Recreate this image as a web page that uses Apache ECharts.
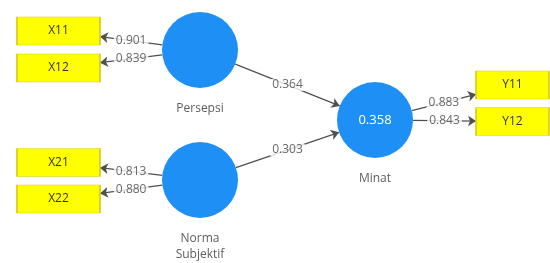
<!DOCTYPE html>
<html>
<head>
<meta charset="utf-8">
<script src="https://cdn.jsdelivr.net/npm/echarts@6/dist/echarts.min.js"></script>
<style>
  html, body { margin: 0; padding: 0; background: #fff; }
  #main { width: 550px; height: 263px; }
</style>
</head>
<body>
<div id="main"></div>
<script>
// latent variables: name, label lines, r2 shown inside
var latentNames = ['Persepsi', 'Norma Subjektif', 'Minat'];
var latentLabels = ['Persepsi', 'Norma\nSubjektif', 'Minat'];
var latentR2 = ['', '', '0.358'];
// diagram layout (centres) of the latent circles
var latentPos = [[200, 50], [200, 180], [375, 120]];

// indicators
var indicatorNames = ['X11', 'X12', 'X21', 'X22', 'Y11', 'Y12'];
var indicatorPos = [[58.5, 31], [58.5, 68], [58.5, 162.5], [58.5, 199], [512.5, 85], [512.5, 121.5]];
var indicatorSize = [[83, 28], [83, 28], [83, 28], [83, 28], [73, 28], [73, 28]];
var indicatorOwner = [0, 0, 1, 1, 2, 2];
var loadings = [0.901, 0.839, 0.813, 0.880, 0.883, 0.843];

// structural paths
var pathFrom = [0, 1];
var pathTo = [2, 2];
var pathCoef = [0.364, 0.303];

var R = 38;
var FONT = '"Open Sans", "Noto Sans", sans-serif';

function onCircle(c, t, r) {
  var dx = t[0] - c[0], dy = t[1] - c[1];
  var d = Math.sqrt(dx * dx + dy * dy);
  return [c[0] + dx / d * r, c[1] + dy / d * r];
}
function onBoxSide(c, t, w) {
  // point on the vertical side of the box facing the circle
  var sx = t[0] > c[0] ? c[0] + w / 2 : c[0] - w / 2;
  var y = c[1] + (t[1] - c[1]) * (sx - c[0]) / (t[0] - c[0]);
  return [sx, y];
}

var edges = [];
var edgeLabels = [];
loadings.forEach(function (v, i) {
  var lv = latentPos[indicatorOwner[i]];
  var box = indicatorPos[i];
  var a = onCircle(lv, box, R);
  var b = onBoxSide(box, lv, indicatorSize[i][0]);
  edges.push({ coords: [a, b] });
  edgeLabels.push({ value: [(a[0] + b[0]) / 2, (a[1] + b[1]) / 2], name: v.toFixed(3) });
});
pathCoef.forEach(function (v, i) {
  var p = latentPos[pathFrom[i]], q = latentPos[pathTo[i]];
  var a = onCircle(p, q, R), b = onCircle(q, p, R);
  edges.push({ coords: [a, b] });
  edgeLabels.push({ value: [(a[0] + b[0]) / 2, (a[1] + b[1]) / 2], name: v.toFixed(3) });
});

var myChart = echarts.init(document.getElementById('main'));
var option = {
  animation: false,
  grid: { left: 0, right: 0, top: 0, bottom: 0 },
  xAxis: { type: 'value', min: 0, max: 550, show: false },
  yAxis: { type: 'value', min: 0, max: 263, inverse: true, show: false },
  series: [
    {
      type: 'lines',
      coordinateSystem: 'cartesian2d',
      z: 1,
      symbol: ['none', 'arrow'],
      symbolSize: 8,
      lineStyle: { color: '#505050', width: 1.3, opacity: 1 },
      data: edges
    },
    {
      type: 'scatter',
      z: 3,
      symbolSize: 0,
      label: {
        show: true,
        position: 'inside',
        formatter: '{b}',
        color: '#444',
        fontSize: 12,
        fontFamily: FONT,
        backgroundColor: '#fff',
        padding: [0, 2]
      },
      data: edgeLabels
    },
    {
      type: 'scatter',
      z: 4,
      symbol: 'circle',
      symbolSize: R * 2,
      itemStyle: { color: '#1e8ff5', opacity: 1 },
      label: {
        show: true,
        position: 'inside',
        formatter: function (p) { return latentR2[p.dataIndex]; },
        color: '#fff',
        fontSize: 13,
        fontFamily: FONT
      },
      data: latentPos.map(function (p, i) { return { value: p, name: latentNames[i] }; })
    },
    {
      type: 'scatter',
      z: 4,
      symbolSize: 0,
      label: {
        show: true,
        position: 'bottom',
        distance: 51,
        formatter: function (p) { return latentLabels[p.dataIndex]; },
        color: '#333',
        fontSize: 12,
        lineHeight: 16,
        fontFamily: FONT
      },
      data: latentPos.map(function (p, i) { return { value: p, name: latentNames[i] }; })
    },
    {
      type: 'scatter',
      z: 4,
      symbol: 'rect',
      itemStyle: { color: '#ffff00', borderColor: '#d8cc1a', borderWidth: 1, opacity: 1 },
      label: {
        show: true,
        position: 'inside',
        formatter: '{b}',
        color: '#333',
        fontSize: 12,
        fontFamily: FONT
      },
      data: indicatorPos.map(function (p, i) {
        return { value: p, name: indicatorNames[i], symbolSize: indicatorSize[i] };
      })
    }
  ]
};
myChart.setOption(option);

window.addEventListener('resize', function () {
  myChart.resize();
});
</script>
</body>
</html>
